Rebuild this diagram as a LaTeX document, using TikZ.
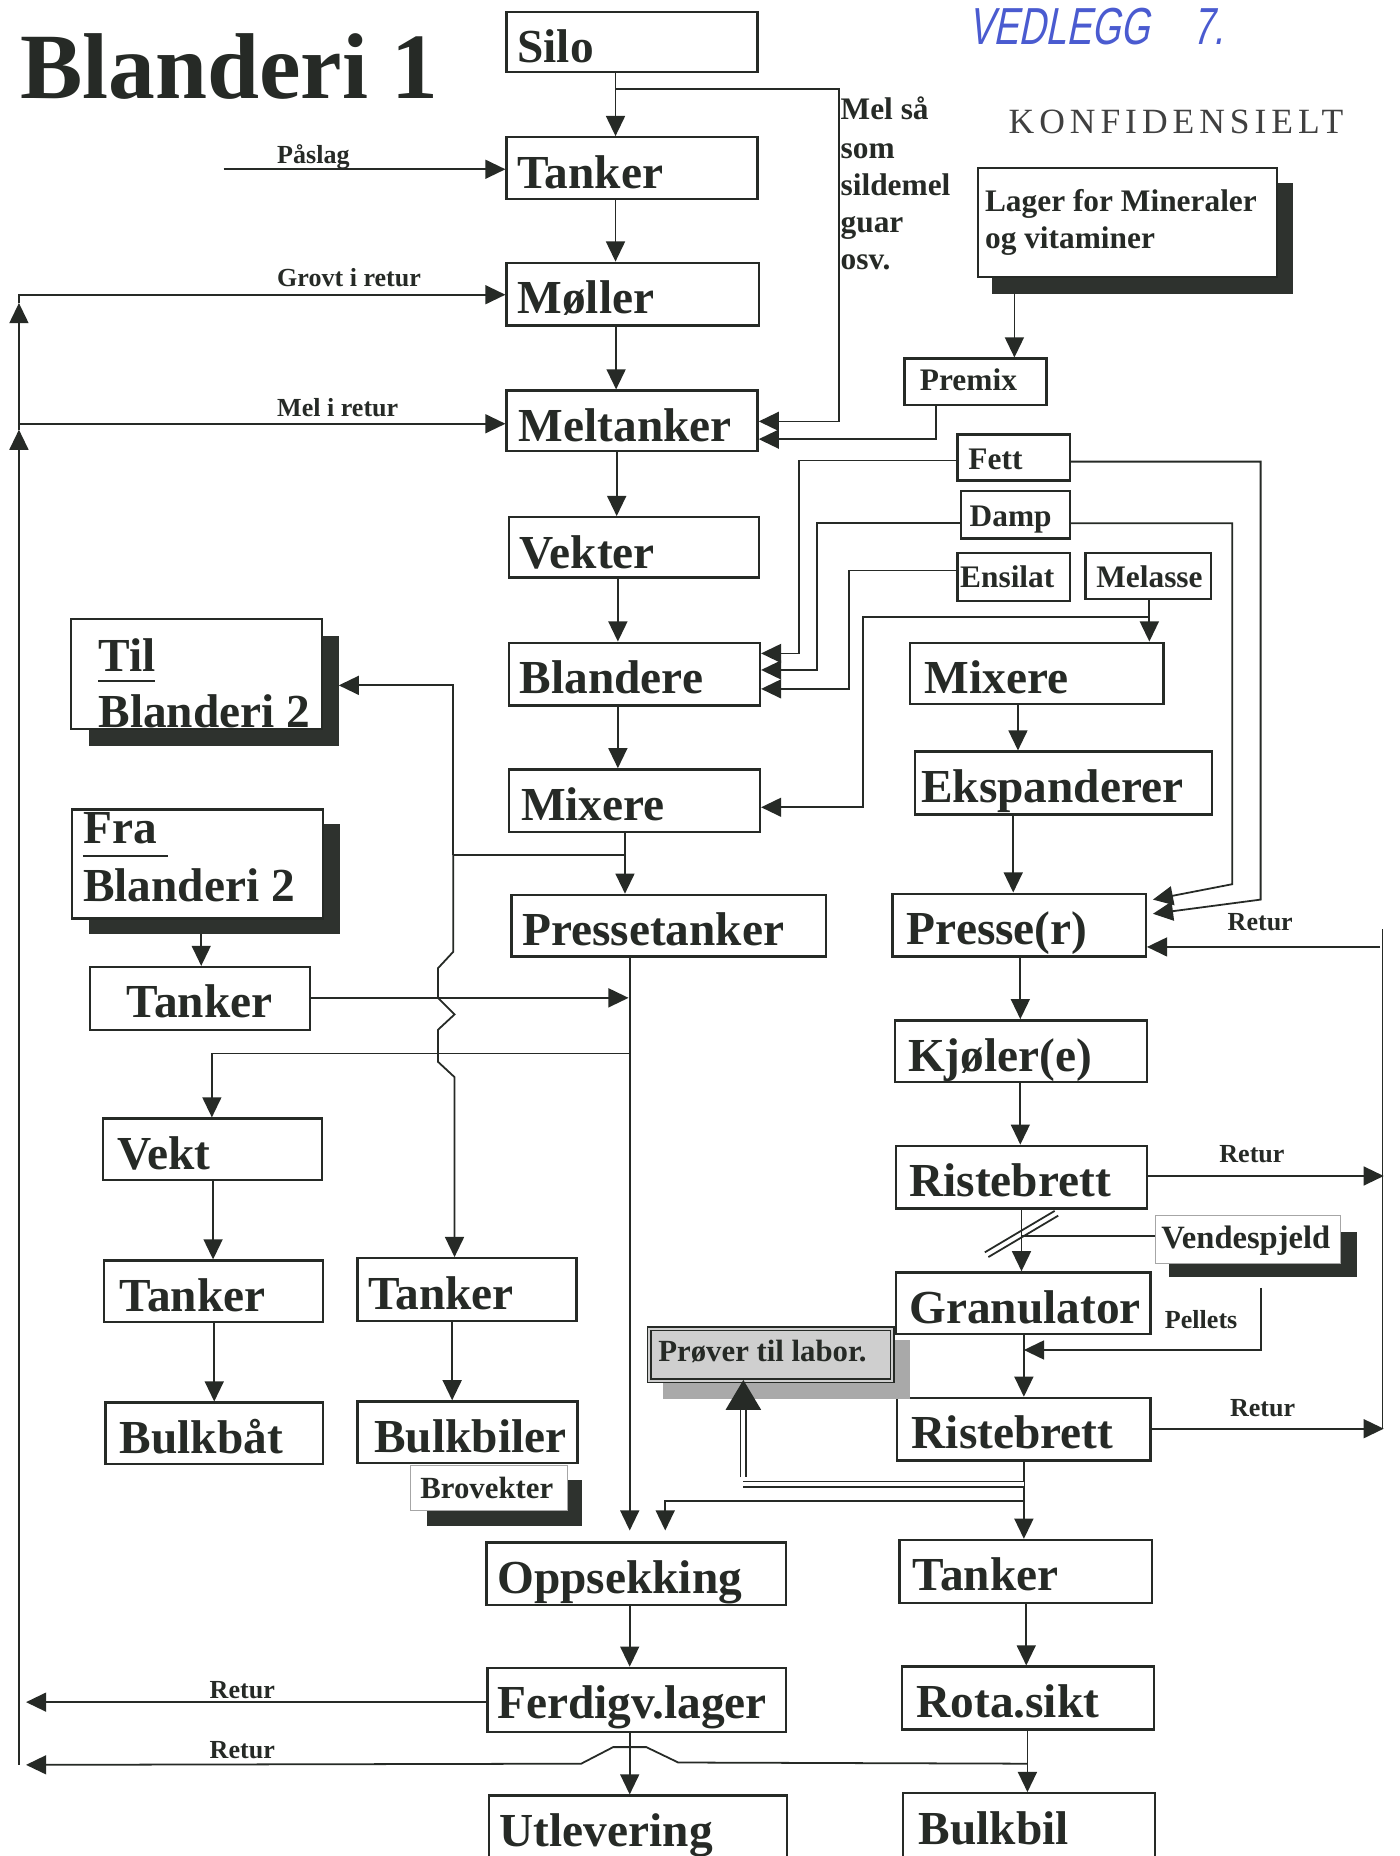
\documentclass[tikz,border=0pt]{standalone}
\usepackage{fontspec}
\setmainfont{Liberation Serif}
\newfontfamily\stampfont[LetterSpace=14]{Liberation Serif}
\newfontfamily\handfont[FakeStretch=0.72,FakeSlant=0.2]{Liberation Sans}
\usetikzlibrary{arrows.meta,fit}
\definecolor{ink}{HTML}{262A26}
\definecolor{shade}{HTML}{2E322E}
\definecolor{prov}{HTML}{CFCFCF}
\definecolor{provsh}{HTML}{A9A9A9}
\definecolor{pen}{HTML}{4A5BD0}
\newcommand\fMain{\fontsize{40}{48}\selectfont\bfseries}
\newcommand\fSmall{\fontsize{26.5}{32}\selectfont\bfseries}
\newcommand\fTiny{\fontsize{22}{26}\selectfont\bfseries}
\newcommand\fTitle{\fontsize{79}{90}\selectfont\bfseries}
\tikzset{
  ln/.style={line width=1.5pt, draw=ink},
  arr/.style={ln, -{Triangle[length=17pt,width=16pt]}},
  dbl/.style={draw=ink, line width=1.2pt, double=white, double distance=3.5pt},
  bx/.style={draw=ink, line width=2pt, inner sep=0pt, fill=white},
  thinbx/.style={draw=black!35, line width=0.7pt, inner sep=0pt, fill=white},
  shbox/.style={fill=shade, draw=none, inner sep=0pt},
  mainlbl/.style={inner sep=0pt, font=\fMain, text=ink},
  smalllbl/.style={inner sep=0pt, font=\fSmall, text=ink},
  tinylbl/.style={inner sep=0pt, font=\fTiny, text=ink},
}
\newcommand\procbox[7]{\node[bx,fit={(#2,#3)(#4,#5)}] (#1) {};\node[mainlbl,anchor=base west] (#1-t) at (#6,#3+43) {#7};}
\newcommand\tagbox[8]{\node[bx,fit={(#2,#3)(#4,#5)}] (#1) {};\node[smalllbl,anchor=base west] (#1-t) at (#6,#7) {#8};}
\begin{document}
\begin{tikzpicture}[x=1pt,y=-1pt]
\clip (0,0) rectangle (1182,1568);
\fill[white] (0,0) rectangle (1182,1568);
\useasboundingbox (0,0) rectangle (1182,1568);

% titles
\node[inner sep=0pt, font=\fTitle, text=ink, anchor=base west] (title) at (17,83) {Blanderi 1};
\node[anchor=base west, inner sep=0pt, font=\stampfont\fontsize{30}{34}\selectfont, text=black!75] (konf) at (852,113) {KONFIDENSIELT};
\node[anchor=base west, inner sep=0pt, text=pen, font=\handfont\fontsize{44}{50}\selectfont] (vedl) at (818,38) {VEDLEGG\hspace{36pt}7.};

% main column
\procbox{silo}{428}{10}{640}{61}{437}{Silo}
\procbox{tankA}{428}{116}{640}{168}{437}{Tanker}
\procbox{moller}{428}{222}{641}{275}{437}{Møller}
\procbox{meltank}{428}{330}{640}{381}{438}{Meltanker}
\procbox{vekter}{430}{437}{641}{488}{439}{Vekter}
\procbox{blandere}{430}{543}{642}{596}{439}{Blandere}
\procbox{mixA}{430}{650}{642}{703}{440}{Mixere}
\procbox{presset}{432}{756}{698}{808}{441}{Pressetanker}
% right column
\procbox{mixB}{769}{543}{983}{595}{781}{Mixere}
\procbox{ekspand}{773}{635}{1024}{688}{778}{Ekspanderer}
\procbox{presse}{754}{755}{968}{808}{766}{Presse(r)}
\procbox{kjoler}{756}{862}{969}{914}{767}{Kjøler(e)}
\procbox{rist1}{757}{968}{969}{1021}{768}{Ristebrett}
\procbox{granul}{757}{1075}{972}{1127}{768}{Granulator}
\procbox{rist2}{758}{1181}{972}{1234}{770}{Ristebrett}
\procbox{tankR}{760}{1301}{973}{1354}{771}{Tanker}
\procbox{rota}{762}{1408}{975}{1461}{774}{Rota.sikt}
\procbox{bulkbil}{763}{1515}{976}{1580}{776}{Bulkbil}
\procbox{opps}{411}{1303}{664}{1356}{420}{Oppsekking}
\procbox{ferdig}{412}{1409}{664}{1463}{420}{Ferdigv.lager}
\procbox{utlev}{413}{1517}{665}{1580}{422}{Utlevering}
% left column
\procbox{tankL}{76}{817}{262}{870}{107}{Tanker}
\procbox{vekt}{87}{945}{272}{997}{99}{Vekt}
\procbox{tankL2}{88}{1065}{273}{1117}{101}{Tanker}
\procbox{tankM}{302}{1063}{487}{1116}{311}{Tanker}
\procbox{bulkbat}{89}{1185}{273}{1237}{101}{Bulkbåt}
\procbox{bulkbiler}{302}{1184}{488}{1236}{316}{Bulkbiler}

% small boxes
\tagbox{premix}{764}{303}{884}{342}{777}{330}{Premix}
\tagbox{fett}{809}{367}{904}{406}{818}{397}{Fett}
\tagbox{damp}{812}{415}{904}{455}{819}{445}{Damp}
\tagbox{ensilat}{809}{467}{904}{508}{811}{496}{Ensilat}
\tagbox{melasse}{917}{467}{1023}{506}{926}{496}{Melasse}

% Lager box with shadow
\node[shbox, fit={(838,155)(1092,248)}] (lager-sh) {};
\node[bx, fit={(826,142)(1079,234)}] (lager) {};
\node[smalllbl, anchor=base west] (lager-t1) at (832,179) {Lager for Mineraler};
\node[smalllbl, anchor=base west] (lager-t2) at (832,210) {og vitaminer};

% Til / Fra Blanderi 2
\node[shbox, fit={(75,537)(286,630)}] (til-sh) {};
\node[bx, fit={(60,523)(272,616)}] (til) {};
\node[mainlbl, anchor=base west] (til-t1) at (83,567.5) {Til};
\draw[ink, line width=1.5pt] (83,575) -- (131,575);
\node[mainlbl, anchor=base west] (til-t2) at (83,615) {Blanderi 2};
\node[shbox, fit={(75,696)(287,789)}] (fra-sh) {};
\node[bx, fit={(61,684)(273,776)}] (fra) {};
\node[mainlbl, anchor=base west] (fra-t1) at (70,712.5) {Fra};
\draw[ink, line width=1.5pt] (70,723) -- (142,723);
\node[mainlbl, anchor=base west] (fra-t2) at (70,762) {Blanderi 2};

% Vendespjeld, Brovekter
\node[shbox, fit={(988,1041)(1146,1079)}] (vend-sh) {};
\node[thinbx, fit={(976,1027)(1132,1067)}] (vend) {};
\node[smalllbl, anchor=base west, font=\fontsize{27.5}{32}\selectfont\bfseries] (vend-t) at (981,1055) {Vendespjeld};
\node[shbox, fit={(361,1250)(492,1289)}] (brov-sh) {};
\node[thinbx, fit={(347,1238)(479,1276)}] (brov) {};
\node[smalllbl, anchor=base west, font=\fontsize{26}{30}\selectfont\bfseries] (brov-t) at (355,1266) {Brovekter};

% Prover til labor.
\node[fit={(560,1132)(769,1182)}, fill=provsh, inner sep=0pt] (prov-sh) {};
\node[fit={(547,1121)(755,1168)}, fill=prov, draw=ink, line width=1.6pt, inner sep=0pt] (prov) {};
\draw[ink, line width=1.2pt] ([shift={(3.7pt,-3.7pt)}]prov.north west) rectangle ([shift={(-3.7pt,3.7pt)}]prov.south east);
\node[inner sep=0pt, anchor=base west, font=\fontsize{26}{30}\selectfont\bfseries, text=ink] (prov-t) at (556,1150.5) {Prøver til labor.};

% labels
\node[smalllbl, anchor=base west] (mel1) at (710,101) {Mel så};
\node[smalllbl, anchor=base west] (mel2) at (710,134) {som};
\node[smalllbl, anchor=base west] (mel3) at (710,165) {sildemel};
\node[smalllbl, anchor=base west] (mel4) at (710,196) {guar};
\node[smalllbl, anchor=base west] (mel5) at (710,228) {osv.};
\node[tinylbl, anchor=base west] (lpaslag) at (234,138) {Påslag};
\node[tinylbl, anchor=base west] (lgrovt) at (234,242) {Grovt i retur};
\node[tinylbl, anchor=base west] (lmel) at (234,352) {Mel i retur};
\node[tinylbl, anchor=base west] (lret1) at (1037,786) {Retur};
\node[tinylbl, anchor=base west] (lret2) at (1030,982) {Retur};
\node[tinylbl, anchor=base west] (lret3) at (1039,1197) {Retur};
\node[tinylbl, anchor=base west] (lpell) at (984,1122) {Pellets};
\node[tinylbl, anchor=base west] (lret4) at (177,1435) {Retur};
\node[tinylbl, anchor=base west] (lret5) at (177,1486) {Retur};

% ---------- connectors ----------
% main column
\draw[arr] (silo.south -| 520,0) -- (tankA.north -| 520,0);
\coordinate (j1) at (520,75.5);
\draw[arr] (j1) -- (709,75.5) -- (709,356) -- (meltank.east |- 0,356);
\coordinate (paslag) at (189,143);
\draw[arr] (paslag) -- (tankA.west |- paslag);
\draw[arr] (tankA.south -| 520,0) -- (moller.north -| 520,0);
\draw[arr] (moller.south -| 520.5,0) -- (meltank.north -| 520.5,0);
\draw[arr] (meltank.south -| 521,0) -- (vekter.north -| 521,0);
\draw[arr] (vekter.south -| 522,0) -- (blandere.north -| 522,0);
\draw[arr] (blandere.south -| 522,0) -- (mixA.north -| 522,0);
\draw[arr] (mixA.south -| 528,0) -- (presset.north -| 528,0);

% left return line
\coordinate (Lb) at (16,1491);
\draw[arr] (Lb) -- (16,363);
\draw[arr] (16,363) -- (16,256);
\draw[arr] (16,256) -- (16,249) -- (moller.west |- 0,249);
\draw[arr] (16,358) -- (meltank.west |- 0,358);
\draw[arr] (ferdig.west |- 0,1438) -- (22,1438);
\draw[arr] (rota.south -| 868,0) ++(0,28) -- (573,1489) -- (546,1476) -- (518,1476) -- (491,1490) -- (22,1491);

% premix / lager
\draw[arr] (premix.south -| 791,0) -- (791,371) -- (meltank.east |- 0,371);
\draw[arr] (lager-sh.south -| 857,0) -- (premix.north -| 857,0);

% fett, damp, ensilat, melasse
\draw[arr] (fett.west |- 0,389) -- (675,389) -- (675,552) -- (blandere.east |- 0,552);
\draw[arr] (fett.east |- 0,390) -- (1065,390) -- (1065,760) -- (974,772);
\draw[arr] (damp.west |- 0,442) -- (690,442) -- (690,566) -- (blandere.east |- 0,566);
\draw[arr] (damp.east |- 0,442) -- (1041,442) -- (1041,747) -- (974,760);
\draw[arr] (ensilat.west |- 0,482) -- (717,482) -- (717,582) -- (blandere.east |- 0,582);
\draw[arr] (melasse.south -| 971,0) -- (mixB.north -| 971,0);
\draw[arr] (971,521) -- (729,521) -- (729,682) -- (mixA.east |- 0,682);

% right column
\draw[arr] (mixB.south -| 860,0) -- (ekspand.north -| 860,0);
\draw[arr] (ekspand.south -| 856,0) -- (presse.north -| 856,0);
\draw[arr] (presse.south -| 862,0) -- (kjoler.north -| 862,0);
\draw[arr] (kjoler.south -| 862,0) -- (rist1.north -| 862,0);
\draw[arr] (rist1.south -| 863,0) -- (granul.north -| 863,0);
\draw[ln] (832,1058) -- (891,1023);
\draw[ln] (835,1062) -- (894,1027);
\draw[ln] (vend.west |- 0,1044) -- (863,1044);
\draw[arr] (rist1.east |- 0,993.5) -- (1169,993.5);
\draw[arr] (rist2.east |- 0,1207) -- (1169,1207);
\draw[ln] (1168,785) -- (1168,1207);
\draw[arr] (1166,800) -- (presse.east |- 0,800);
\draw[arr] (granul.south -| 865,0) -- (rist2.north -| 865,0);
\draw[arr] (1065,1088) -- (1065,1140.5) -- (865,1140.5);
\draw[arr] (rist2.south -| 865,0) -- (tankR.north -| 865,0);
\draw[dbl] (865,1254) -- (628,1254);
\draw[dbl] (628,1248) -- (628,1191);
\fill[ink] (prov.south -| 628,0) ++(0,-3) -- (643,1191) -- (613,1191) -- cycle;
\draw[arr] (866,1268) -- (562,1268) -- (562,1293);
\draw[arr] (tankR.south -| 867,0) -- (rota.north -| 867,0);
\draw[arr] (rota.south -| 868,0) -- (bulkbil.north -| 868,0);

% pressetanker line and left branches
\draw[arr] (presset.south -| 532,0) -- (532,1293);
\draw[arr] (tankL.east |- 0,843) -- (531,843);
\draw[arr] (531,890) -- (179,890) -- (vekt.north -| 179,0);
\draw[arr] (fra-sh.south -| 170,0) -- (tankL.north -| 170,0);
\draw[arr] (vekt.south -| 180,0) -- (tankL2.north -| 180,0);
\draw[arr] (tankL2.south -| 181,0) -- (bulkbat.north -| 181,0);
\draw[arr] (tankM.south -| 382,0) -- (bulkbiler.north -| 382,0);
\draw[ln] (528,722.5) -- (383,722.5);
\draw[arr] (383,722.5) -- (383,579) -- (til-sh.east |- 0,579);
\draw[arr] (383,722.5) -- (383,804) -- (370,818) -- (370,843) -- (384,857) -- (370,870) -- (370,897) -- (384,910) -- (tankM.north -| 384,0);

% bottom column
\draw[arr] (opps.south -| 532,0) -- (ferdig.north -| 532,0);
\draw[arr] (ferdig.south -| 532,0) -- (utlev.north -| 532,0);
\end{tikzpicture}
\end{document}
